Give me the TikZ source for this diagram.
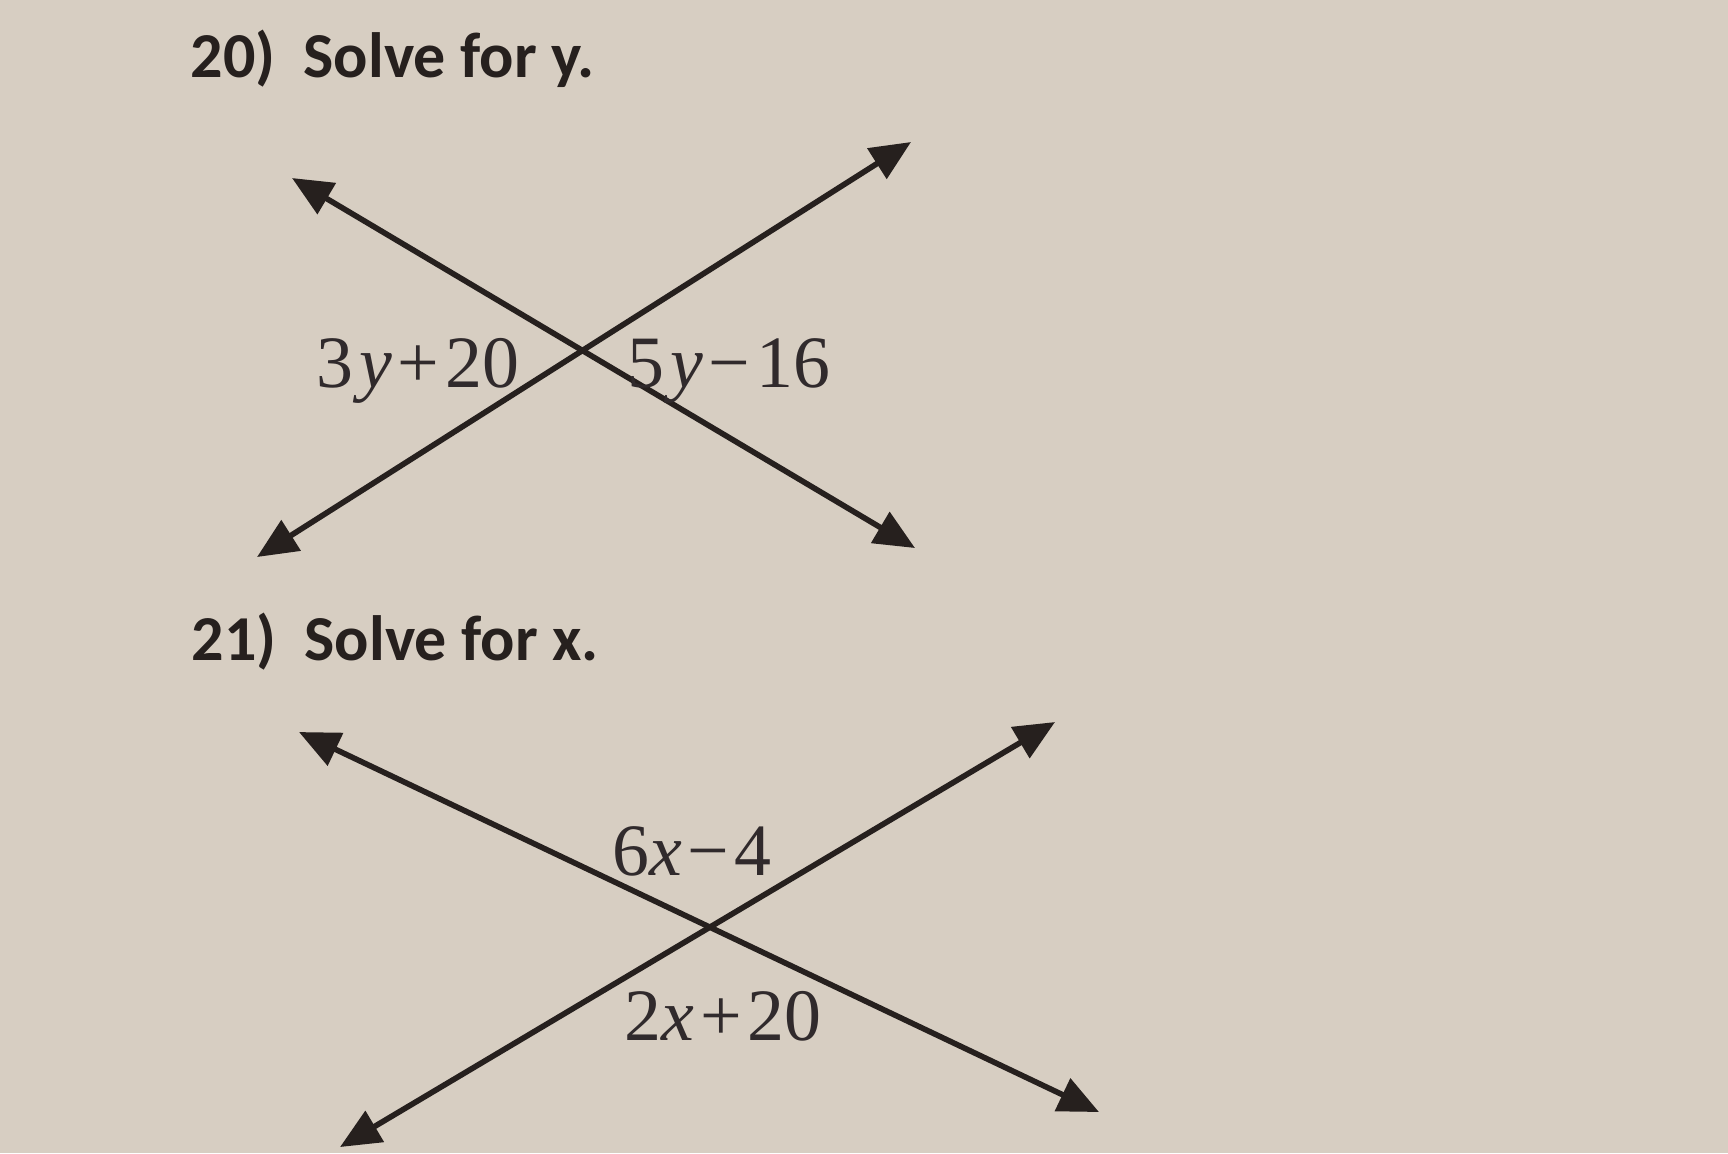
\documentclass[tikz,border=0pt]{standalone}
\usepackage{fontspec}
\setmainfont{Liberation Serif}
\newfontfamily\titlefont{Carlito}
\newfontfamily\labelfont{Liberation Serif}
\usetikzlibrary{arrows.meta}
\definecolor{paper}{RGB}{215,206,194}
\definecolor{ink}{RGB}{38,32,30}
\definecolor{printink}{RGB}{48,42,44}
\tikzset{
  rayline/.style={draw=ink, line width=1.6pt, {Triangle[length=11.5pt,width=10pt]}-{Triangle[length=11.5pt,width=10pt]}},
  titletext/.style={anchor=base west, inner sep=0pt, font=\titlefont\bfseries\fontsize{18.2}{22}\selectfont, text=ink},
  angletext/.style={anchor=base, inner sep=0pt, font=\labelfont\fontsize{21}{24}\selectfont, text=printink}
}
\newcommand{\gp}{\hspace{1.6pt}}
\begin{document}
\begin{tikzpicture}[x=0.01cm,y=-0.01cm]
\fill[paper] (0,0) rectangle (1728,1153);
\useasboundingbox (0,0) rectangle (1728,1153);
% titles
\node[titletext] (t1) at (190,77) {20)\hspace{8pt}Solve for y.};
\node[titletext] (t2) at (191,660) {21)\hspace{8pt}Solve for x.};
% figure 1
\coordinate (a1) at (292,178);
\coordinate (b1) at (915,548);
\coordinate (c1) at (911,142);
\coordinate (d1) at (257,557);
\draw[rayline] (a1) -- (b1);
\draw[rayline] (d1) -- (c1);
\node[angletext] (l1) at (418,387) {3\gp\textit{y}\gp+\gp20};
\node[angletext] (r1) at (729,387) {5\gp\textit{y}\gp−\gp16};
% figure 2
\coordinate (a2) at (299,732);
\coordinate (b2) at (1099,1112);
\coordinate (c2) at (1055,722);
\coordinate (d2) at (340,1147);
\draw[rayline] (a2) -- (b2);
\draw[rayline] (d2) -- (c2);
\node[angletext] (u2) at (692,875) {6\textit{x}\gp−\gp4};
\node[angletext] (w2) at (723,1040) {2\textit{x}\gp+\gp20};
\end{tikzpicture}
\end{document}
